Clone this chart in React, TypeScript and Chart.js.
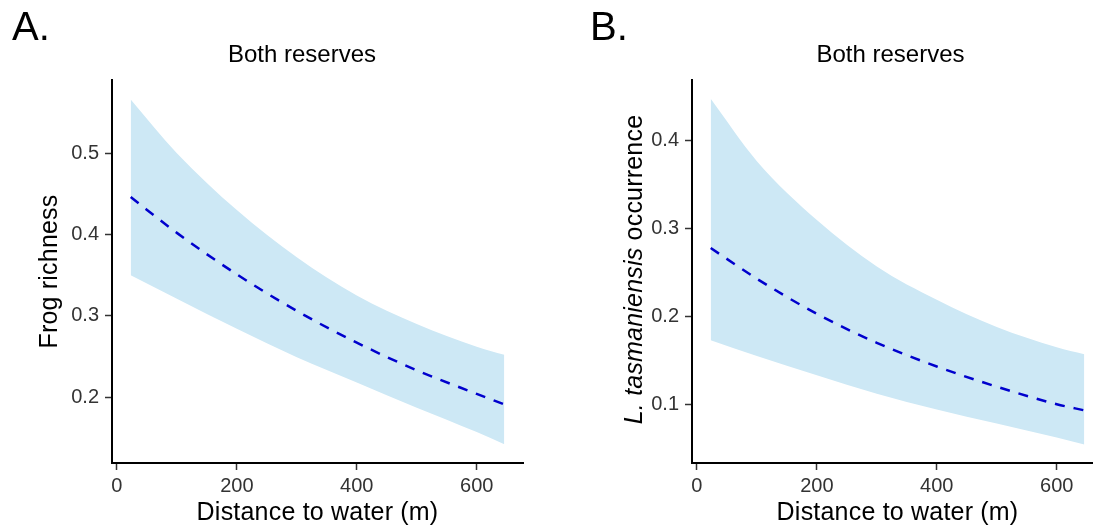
import React, { useEffect, useRef } from "react";
import { Chart, registerables } from "chart.js";

Chart.register(...registerables);

// ---- data ----
const distances = [23, 100, 200, 300, 400, 500, 600, 646];

const richnessFit = [0.446, 0.402, 0.351, 0.306, 0.267, 0.233, 0.204, 0.191];
const richnessUpper = [0.566, 0.5, 0.43, 0.372, 0.325, 0.29, 0.262, 0.252];
const richnessLower = [0.35, 0.321, 0.284, 0.249, 0.218, 0.187, 0.157, 0.142];

const occurrenceFit = [0.278, 0.243, 0.203, 0.17, 0.143, 0.12, 0.1, 0.093];
const occurrenceUpper = [0.448, 0.377, 0.31, 0.257, 0.219, 0.188, 0.165, 0.157];
const occurrenceLower = [0.173, 0.155, 0.133, 0.112, 0.094, 0.078, 0.062, 0.054];

const xTicks = [0, 200, 400, 600];
const richnessTicks = [0.2, 0.3, 0.4, 0.5];
const occurrenceTicks = [0.1, 0.2, 0.3, 0.4];

const panelTitle = "Both reserves";
const xTitle = "Distance to water (m)";
const richnessTitle = [{ text: "Frog richness" }];
const occurrenceTitle = [
  { text: "L. tasmaniensis", italic: true },
  { text: " occurrence" },
];

// ---- styles ----
const FONT = "'Liberation Sans', Arial, Helvetica, sans-serif";
const RIBBON = "rgb(205,232,245)";
const LINE = "#0000CD";
const TICK_TEXT = "#333333";

type Part = { text: string; italic?: boolean };

function drawParts(
  ctx: CanvasRenderingContext2D,
  parts: Part[],
  x: number,
  y: number,
  size: number,
  spacing: number,
  rotate: boolean,
  align: "left" | "center"
) {
  ctx.save();
  ctx.translate(x, y);
  if (rotate) ctx.rotate(-Math.PI / 2);
  ctx.textBaseline = "alphabetic";
  ctx.textAlign = "left";
  ctx.fillStyle = "#000";
  const anyCtx = ctx as any;
  if ("letterSpacing" in anyCtx) anyCtx.letterSpacing = spacing + "px";
  const fontFor = (p: Part) => `${p.italic ? "italic " : ""}${size}px ${FONT}`;
  let total = 0;
  const widths = parts.map((p) => {
    ctx.font = fontFor(p);
    const w = ctx.measureText(p.text).width;
    total += w;
    return w;
  });
  let cx = align === "center" ? -total / 2 : 0;
  parts.forEach((p, i) => {
    ctx.font = fontFor(p);
    ctx.fillText(p.text, cx, 0);
    cx += widths[i];
  });
  ctx.restore();
}

type PanelCfg = {
  left: number;
  width: number;
  yAxisWidth: number;
  padRight: number;
  yMin: number;
  yMax: number;
  yTicks: number[];
  fit: number[];
  lower: number[];
  upper: number[];
  letter: string;
  letterX: number;
  titleX: number;
  yTitle: Part[];
  yTitleX: number;
  yTitleDy: number;
};

const panels: PanelCfg[] = [
  {
    left: 0,
    width: 546,
    yAxisWidth: 112,
    padRight: 23,
    yMin: 0.119,
    yMax: 0.59,
    yTicks: richnessTicks,
    fit: richnessFit,
    lower: richnessLower,
    upper: richnessUpper,
    letter: "A.",
    letterX: 12,
    titleX: 302,
    yTitle: richnessTitle,
    yTitleX: 57,
    yTitleDy: 0,
  },
  {
    left: 546,
    width: 560,
    yAxisWidth: 146,
    padRight: 3,
    yMin: 0.033,
    yMax: 0.4695,
    yTicks: occurrenceTicks,
    fit: occurrenceFit,
    lower: occurrenceLower,
    upper: occurrenceUpper,
    letter: "B.",
    letterX: 44,
    titleX: 344.5,
    yTitle: occurrenceTitle,
    yTitleX: 95.5,
    yTitleDy: -2,
  },
];

const pts = (ys: number[]) => distances.map((x, i) => ({ x, y: ys[i] }));

function Panel({ cfg }: { cfg: PanelCfg }) {
  const ref = useRef<HTMLCanvasElement>(null);

  useEffect(() => {
    if (!ref.current) return;
    const textPlugin = {
      id: "panelText",
      afterDraw(chart: any) {
        const ctx = chart.ctx as CanvasRenderingContext2D;
        const a = chart.chartArea;
        drawParts(ctx, [{ text: cfg.letter }], cfg.letterX, 40, 40, 0, false, "left");
        drawParts(ctx, [{ text: panelTitle }], cfg.titleX, 62, 24, 0, false, "center");
        drawParts(ctx, [{ text: xTitle }], (a.left + a.right) / 2, 520, 25, 0.2, false, "center");
        drawParts(
          ctx,
          cfg.yTitle,
          cfg.yTitleX,
          (a.top + a.bottom) / 2 + cfg.yTitleDy,
          25,
          0.2,
          true,
          "center"
        );
      },
    };

    const chart = new Chart(ref.current, {
      type: "line",
      data: {
        datasets: [
          {
            data: pts(cfg.lower),
            borderWidth: 0,
            borderColor: "rgba(0,0,0,0)",
            pointRadius: 0,
            fill: false,
            order: 2,
            cubicInterpolationMode: "monotone",
          },
          {
            data: pts(cfg.upper),
            borderWidth: 0,
            borderColor: "rgba(0,0,0,0)",
            backgroundColor: RIBBON,
            pointRadius: 0,
            fill: "-1",
            order: 1,
            cubicInterpolationMode: "monotone",
          },
          {
            data: pts(cfg.fit),
            borderColor: LINE,
            borderWidth: 2.5,
            borderDash: [10, 9],
            borderCapStyle: "butt",
            pointRadius: 0,
            fill: false,
            order: 0,
            cubicInterpolationMode: "monotone",
          },
        ],
      } as any,
      options: {
        animation: false,
        responsive: false,
        maintainAspectRatio: false,
        devicePixelRatio: 1,
        events: [],
        layout: { padding: { top: 80, right: cfg.padRight, bottom: 0, left: 0 } },
        plugins: {
          legend: { display: false },
          title: { display: false },
          tooltip: { enabled: false },
        },
        scales: {
          x: {
            type: "linear",
            min: -8.2,
            max: 677.2,
            afterFit: (s: any) => {
              s.height = 65;
            },
            afterBuildTicks: (s: any) => {
              s.ticks = xTicks.map((v) => ({ value: v }));
            },
            ticks: {
              font: { family: FONT, size: 20 },
              color: TICK_TEXT,
              padding: 4,
              maxRotation: 0,
              autoSkip: false,
              callback: (v: any) => String(v),
            },
            grid: {
              display: true,
              drawOnChartArea: false,
              drawTicks: true,
              tickLength: 7,
              tickWidth: 1.5,
              tickColor: "#333",
            },
            border: { display: true, color: "#000", width: 2 },
          },
          y: {
            type: "linear",
            min: cfg.yMin,
            max: cfg.yMax,
            afterFit: (s: any) => {
              s.width = cfg.yAxisWidth;
            },
            afterBuildTicks: (s: any) => {
              s.ticks = cfg.yTicks.map((v) => ({ value: v }));
            },
            ticks: {
              font: { family: FONT, size: 20 },
              color: TICK_TEXT,
              padding: 6,
              autoSkip: false,
              callback: (v: any) => Number(v).toFixed(1),
            },
            grid: {
              display: true,
              drawOnChartArea: false,
              drawTicks: true,
              tickLength: 7,
              tickWidth: 1.5,
              tickColor: "#333",
            },
            border: { display: true, color: "#000", width: 2 },
          },
        },
      } as any,
      plugins: [textPlugin],
    });
    return () => chart.destroy();
  }, [cfg]);

  return (
    <canvas
      ref={ref}
      width={cfg.width}
      height={528}
      style={{ position: "absolute", left: cfg.left, top: 0, width: cfg.width, height: 528 }}
    />
  );
}

export default function App() {
  return (
    <div
      style={{
        position: "absolute",
        left: 0,
        top: 0,
        width: 1093,
        height: 528,
        overflow: "hidden",
        background: "#fff",
      }}
    >
      {panels.map((p) => (
        <Panel key={p.letter} cfg={p} />
      ))}
    </div>
  );
}
